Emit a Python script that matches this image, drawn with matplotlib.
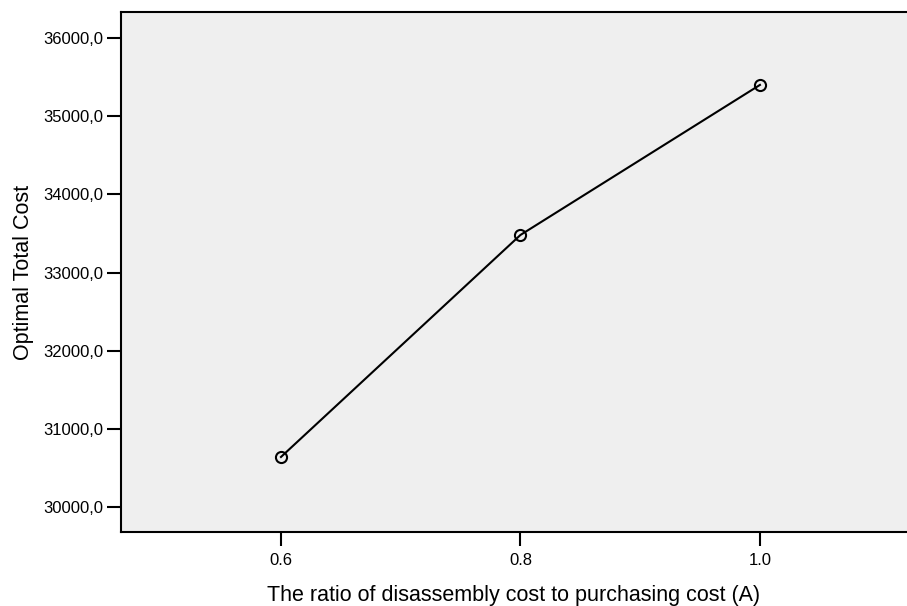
import matplotlib.pyplot as plt
from matplotlib.ticker import FuncFormatter

plt.rcParams['font.family'] = ['Liberation Sans', 'DejaVu Sans']

# data
ratios = ['0.6', '0.8', '1.0']
total_cost = [30637, 33481, 35403]
y_ticks = [30000, 31000, 32000, 33000, 34000, 35000, 36000]

fig = plt.figure(figsize=(9.07, 6.06), dpi=100)
ax = fig.add_axes([0.1334, 0.1221, 0.8666, 0.8576])
ax.set_facecolor('#efefef')

x = list(range(len(ratios)))
ax.plot(x, total_cost, color='black', linewidth=1.5, marker='o', markersize=8,
        markerfacecolor='none', markeredgecolor='black', markeredgewidth=1.5)

ax.set_xlim(-0.668, 2.614)
ax.set_ylim(29676, 36333)
ax.set_xticks(x)
ax.set_xticklabels(ratios)
ax.set_yticks(y_ticks)
ax.yaxis.set_major_formatter(FuncFormatter(lambda v, p: f'{v:.1f}'.replace('.', ',')))

ax.tick_params(direction='out', length=10, width=1.5, labelsize=12, pad=3)
ax.tick_params(axis='x', pad=5)
for s in ['left', 'bottom', 'top']:
    ax.spines[s].set_linewidth(1.5)
ax.spines['right'].set_visible(False)

ax.set_ylabel('Optimal Total Cost', fontsize=15.5, labelpad=6)
ax.set_xlabel('The ratio of disassembly cost to purchasing cost (A)', fontsize=15.5, labelpad=12)

fig.savefig('out.png', dpi=100)
